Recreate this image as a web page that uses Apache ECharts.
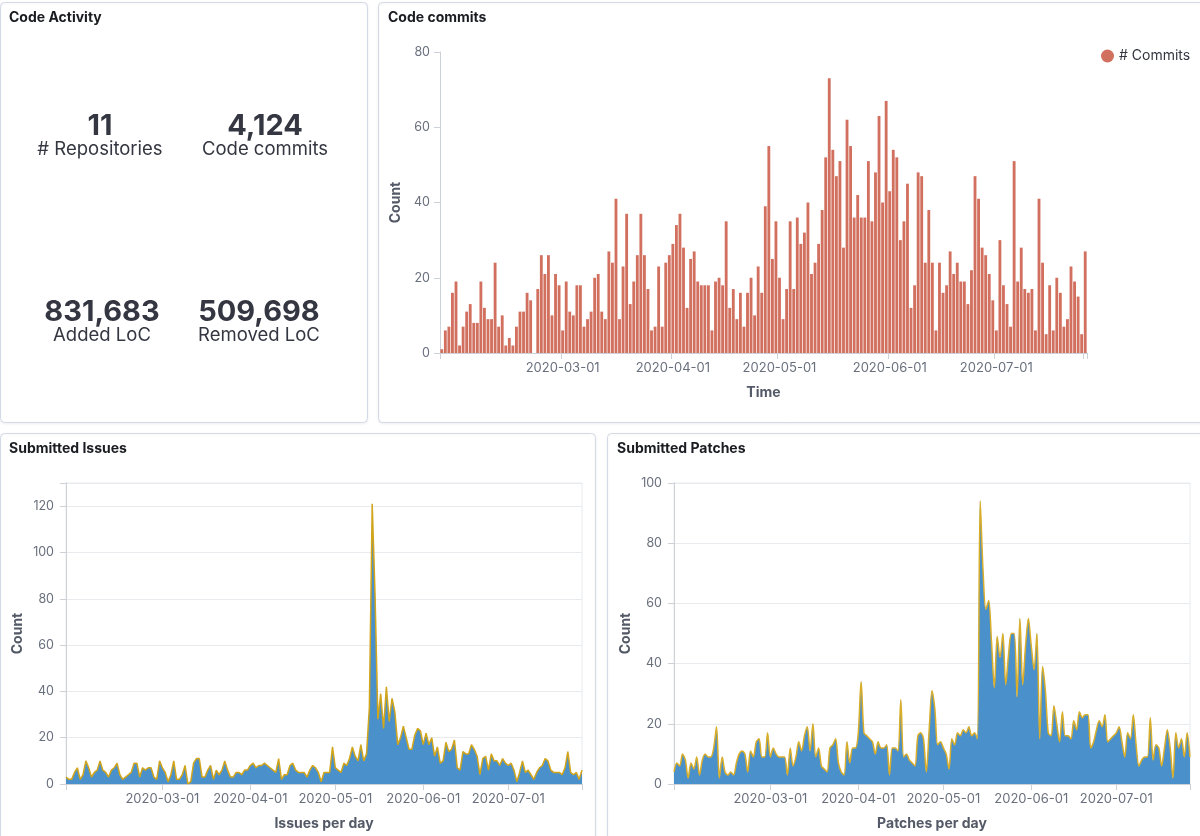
<!DOCTYPE html>
<html>
<head>
<meta charset="utf-8">
<script src="https://cdn.jsdelivr.net/npm/echarts@6/dist/echarts.min.js"></script>
<style>
  html, body { margin: 0; padding: 0; background: #ffffff; }
  #chart { width: 1200px; height: 836px; }
</style>
</head>
<body>
<div id="chart"></div>
<script>
// ---------- DATA ----------
const axisStart = '2020-01-27';
const tickLabels = ['2020-03-01', '2020-04-01', '2020-05-01', '2020-06-01', '2020-07-01'];

// Daily commits, 2020-01-27 .. 2020-07-26
const commitValues = [
  1, 6, 7, 16, 19, 2, 7, 11, 13, 8,
  8, 19, 12, 9, 9, 24, 7, 10, 2, 4,
  2, 7, 11, 11, 16, 14, 0, 17, 26, 21,
  26, 10, 21, 18, 6, 19, 11, 10, 18, 18,
  7, 9, 11, 20, 21, 11, 9, 27, 24, 41,
  9, 23, 37, 13, 19, 26, 37, 26, 17, 6,
  7, 23, 7, 24, 26, 29, 34, 37, 28, 12,
  25, 27, 19, 18, 18, 18, 6, 19, 20, 18,
  35, 12, 17, 9, 16, 7, 16, 20, 10, 23,
  16, 39, 55, 25, 35, 20, 9, 17, 35, 17,
  36, 29, 32, 40, 21, 24, 29, 38, 52, 73,
  54, 47, 51, 28, 62, 55, 36, 42, 36, 36,
  51, 35, 48, 63, 40, 67, 43, 54, 52, 30,
  35, 45, 12, 18, 48, 47, 24, 38, 24, 6,
  24, 16, 18, 27, 21, 24, 19, 19, 13, 22,
  47, 41, 28, 26, 21, 14, 6, 30, 18, 13,
  7, 51, 19, 28, 17, 16, 17, 6, 41, 24,
  5, 18, 6, 20, 16, 7, 9, 23, 19, 15,
  5, 27
];

// Daily submitted issues, 2020-01-27 .. 2020-07-27
const issueValues = [
  3, 2, 2, 5, 7, 2, 4, 10, 7, 3,
  5, 6, 10, 6, 5, 3, 6, 7, 9, 4,
  2, 3, 4, 5, 9, 9, 3, 7, 6, 7,
  7, 3, 2, 10, 7, 5, 1, 4, 10, 2,
  2, 4, 8, 0, 1, 9, 11, 11, 3, 3,
  6, 8, 2, 6, 4, 6, 10, 6, 3, 3,
  5, 5, 4, 6, 6, 8, 9, 7, 8, 8,
  9, 8, 7, 6, 5, 11, 2, 4, 4, 8,
  9, 6, 5, 5, 5, 3, 6, 8, 7, 5,
  1, 5, 5, 5, 16, 7, 6, 5, 9, 8,
  11, 16, 12, 10, 17, 10, 13, 33, 121, 82,
  28, 39, 24, 42, 27, 37, 31, 17, 20, 25,
  20, 15, 15, 21, 24, 23, 17, 22, 17, 20,
  12, 16, 9, 10, 18, 14, 15, 19, 7, 6,
  14, 13, 13, 17, 15, 12, 4, 11, 12, 6,
  13, 10, 10, 8, 11, 9, 8, 9, 6, 1,
  5, 10, 5, 6, 4, 2, 5, 7, 8, 11,
  10, 6, 5, 5, 5, 4, 7, 14, 5, 4,
  5, 2, 6
];

// Daily submitted patches, 2020-01-27 .. 2020-07-27
const patchValues = [
  4, 7, 6, 10, 8, 2, 7, 5, 9, 3,
  8, 10, 9, 9, 12, 19, 2, 9, 4, 3,
  4, 3, 7, 10, 11, 10, 4, 11, 9, 14,
  15, 9, 9, 17, 9, 12, 10, 9, 9, 9,
  3, 12, 6, 9, 14, 11, 16, 19, 11, 20,
  9, 12, 6, 5, 4, 12, 13, 15, 7, 4,
  3, 14, 7, 12, 12, 17, 34, 17, 16, 15,
  14, 10, 14, 12, 12, 13, 3, 12, 12, 11,
  28, 9, 10, 8, 7, 6, 16, 17, 15, 4,
  18, 31, 25, 13, 14, 12, 10, 5, 15, 13,
  17, 16, 18, 17, 19, 16, 17, 15, 94, 71,
  58, 61, 47, 32, 49, 42, 50, 33, 43, 50,
  50, 29, 55, 33, 46, 55, 46, 38, 50, 15,
  39, 31, 17, 16, 26, 20, 14, 24, 16, 16,
  15, 21, 18, 24, 22, 23, 23, 12, 14, 18,
  21, 19, 23, 14, 15, 16, 17, 19, 14, 9,
  17, 15, 23, 13, 6, 8, 9, 9, 22, 8,
  13, 12, 6, 12, 18, 12, 2, 17, 12, 15,
  9, 17, 9
];

const metricValues = ['11', '4,124', '831,683', '509,698'];
const metricLabels = ['# Repositories', 'Code commits', 'Added LoC', 'Removed LoC'];

// ---------- HELPERS ----------
function dayList(start, n) {
  const p = start.split('-').map(Number);
  const t0 = Date.UTC(p[0], p[1] - 1, p[2]);
  const out = [];
  for (let i = 0; i < n; i++) out.push(new Date(t0 + i * 86400000).toISOString().slice(0, 10));
  return out;
}
const commitDates = dayList(axisStart, commitValues.length);
const issueDates = dayList(axisStart, issueValues.length);
const patchDates = dayList(axisStart, patchValues.length);

const FONT = 'Inter, "Noto Sans", "DejaVu Sans", sans-serif';
const AXIS_COLOR = '#CDD1D8';
const LABEL_COLOR = '#69707D';
const NAME_COLOR = '#535966';
const GRID_LINE = '#E8EAEE';

function xAxisDef(gridIndex, dates, name, boundaryGap) {
  const last = dates.length - 1;
  return {
    type: 'category', gridIndex, data: dates, boundaryGap,
    name, nameLocation: 'middle', nameGap: 33,
    nameTextStyle: { fontWeight: 'bold', fontSize: 14, color: NAME_COLOR, fontFamily: FONT },
    axisLine: { lineStyle: { color: AXIS_COLOR, width: 1 } },
    axisTick: { show: true, length: 6, lineStyle: { color: AXIS_COLOR },
      interval: (i, v) => i === 0 || i === last || tickLabels.includes(v) },
    axisLabel: { color: LABEL_COLOR, fontSize: 13, margin: 9, fontFamily: FONT,
      interval: (i, v) => tickLabels.includes(v) },
    splitLine: { show: false }
  };
}
function yAxisDef(gridIndex, max, interval, labelStep, nameGap, grid) {
  const ticks = [];
  for (let v = 0; v <= max; v += labelStep) ticks.push(v);
  if (ticks[ticks.length - 1] !== max) ticks.push(max);
  return {
    type: 'value', gridIndex, min: 0, max, interval,
    name: 'Count', nameLocation: 'middle', nameGap,
    nameTextStyle: { fontWeight: 'bold', fontSize: 14, color: NAME_COLOR, fontFamily: FONT },
    axisLine: { show: true, lineStyle: { color: AXIS_COLOR, width: 1 } },
    axisTick: { show: true, length: 6, lineStyle: { color: AXIS_COLOR }, customValues: ticks },
    axisLabel: { color: LABEL_COLOR, fontSize: 12.5, margin: grid ? 12 : 10, fontFamily: FONT,
      formatter: v => (v % labelStep === 0 ? String(v) : '') },
    splitLine: { show: grid, lineStyle: { color: GRID_LINE, width: 1 } }
  };
}

// ---------- GRAPHICS (panels, titles, metrics) ----------
const panelStyle = { fill: '#ffffff', stroke: '#D3DAE6', lineWidth: 1,
  shadowBlur: 3, shadowColor: 'rgba(0,0,0,0.06)', shadowOffsetY: 1 };
const graphics = [
  { type: 'rect', z: -100, shape: { x: 0.5, y: 2.5, width: 367, height: 420, r: 4 }, style: panelStyle },
  { type: 'rect', z: -100, shape: { x: 378.5, y: 2.5, width: 840, height: 420, r: 4 }, style: panelStyle },
  { type: 'rect', z: -100, shape: { x: 0.5, y: 433.5, width: 595, height: 420, r: 4 }, style: panelStyle },
  { type: 'rect', z: -100, shape: { x: 607.5, y: 433.5, width: 620, height: 420, r: 4 }, style: panelStyle }
];
const titles = [['Code Activity', 9, 18], ['Code commits', 388, 18], ['Submitted Issues', 9, 449], ['Submitted Patches', 617, 449]];
titles.forEach(t => graphics.push({ type: 'text', z: 10, style: { text: t[0], x: t[1], y: t[2],
  textVerticalAlign: 'middle', font: 'bold 14px ' + FONT, fill: '#1A1C21' } }));
const metricPos = [[100, 126], [265, 126], [102, 312], [259, 312]];
metricValues.forEach((v, i) => {
  graphics.push({ type: 'text', z: 10, style: { text: v, x: metricPos[i][0], y: metricPos[i][1],
    textAlign: 'center', textVerticalAlign: 'middle', font: 'bold 29px ' + FONT, fill: '#343741' } });
  graphics.push({ type: 'text', z: 10, style: { text: metricLabels[i], x: metricPos[i][0], y: metricPos[i][1] + 23,
    textAlign: 'center', textVerticalAlign: 'middle', font: '18.5px ' + FONT, fill: '#343741' } });
});

// ---------- CHART ----------
const chart = echarts.init(document.getElementById('chart'), null, { renderer: 'canvas' });
chart.setOption({
  animation: false,
  backgroundColor: '#ffffff',
  textStyle: { fontFamily: FONT },
  legend: {
    data: ['# Commits'], left: 1096, top: 44, icon: 'circle', itemWidth: 13, itemHeight: 13, itemGap: 5,
    textStyle: { fontSize: 14, color: '#343741', fontFamily: FONT }
  },
  grid: [
    { left: 440, top: 52, width: 647, height: 301 },
    { left: 66, top: 483, width: 516, height: 301, show: true, borderColor: GRID_LINE, borderWidth: 1, backgroundColor: 'transparent' },
    { left: 674, top: 483, width: 516, height: 301, show: true, borderColor: GRID_LINE, borderWidth: 1, backgroundColor: 'transparent' }
  ],
  xAxis: [
    xAxisDef(0, commitDates, 'Time', true),
    xAxisDef(1, issueDates, 'Issues per day', false),
    xAxisDef(2, patchDates, 'Patches per day', false)
  ],
  yAxis: [
    yAxisDef(0, 80, 20, 20, 36, false),
    yAxisDef(1, 130, 10, 20, 41, true),
    yAxisDef(2, 100, 10, 20, 41, true)
  ],
  series: [
    { name: '# Commits', type: 'bar', xAxisIndex: 0, yAxisIndex: 0, data: commitValues,
      barCategoryGap: '20%', itemStyle: { color: '#D2705F' } },
    { name: 'Issues', type: 'line', xAxisIndex: 1, yAxisIndex: 1, data: issueValues,
      symbol: 'none', lineStyle: { color: '#D1A51C', width: 1.5 },
      areaStyle: { color: '#4A90CB', opacity: 1 } },
    { name: 'Patches', type: 'line', xAxisIndex: 2, yAxisIndex: 2, data: patchValues,
      symbol: 'none', smooth: 0.3, lineStyle: { color: '#D9AE2B', width: 1.5 },
      areaStyle: { color: '#4A90CB', opacity: 1 } }
  ],
  graphic: graphics
});
</script>
</body>
</html>
